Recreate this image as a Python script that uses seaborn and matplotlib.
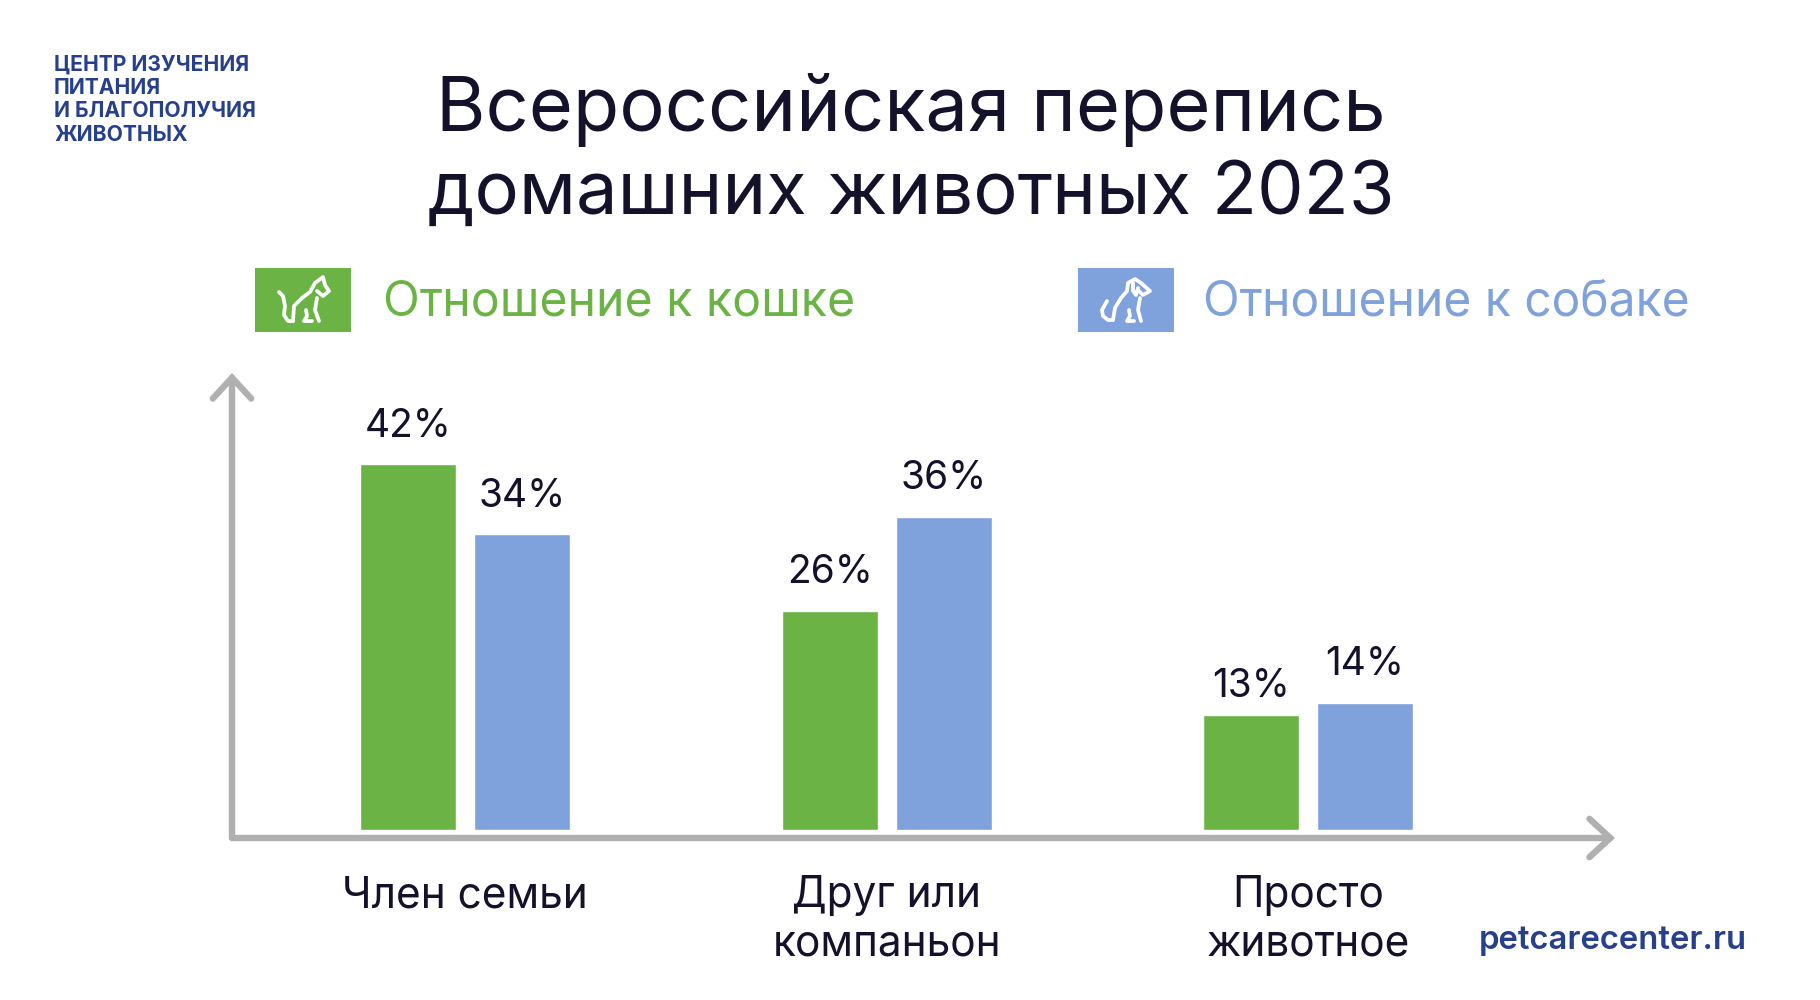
import matplotlib
matplotlib.use("Agg")
import matplotlib.pyplot as plt
import pandas as pd
import seaborn as sns

categories = ["Член семьи", "Друг или\nкомпаньон", "Просто\nживотное"]
# bar heights, the printed labels are kept apart
cat_values = [42.0, 25.2, 13.2]
dog_values = [34.0, 36.0, 14.6]
cat_labels = ["42%", "26%", "13%"]
dog_labels = ["34%", "36%", "14%"]
cat_label = "Отношение к кошке"
dog_label = "Отношение к собаке"

GREEN = "#6BB345"
BLUE = "#7FA1DC"
GREY = "#B0B0B0"
DARK = "#14122B"
NAVY = "#27408B"
W, H = 1820, 1000

sns.set_theme(style="white")
plt.rcParams["font.family"] = ["Inter", "DejaVu Sans"]

df = pd.DataFrame({
    "category": categories * 2,
    "value": cat_values + dog_values,
    "series": [cat_label] * 3 + [dog_label] * 3,
})

fig = plt.figure(figsize=(W / 100, H / 100), dpi=100, facecolor="white")
# axes corners are the ends of the two grey arrows
ax = fig.add_axes([232 / W, 1 - 838 / H, (1615 - 232) / W, (838 - 373) / H])
sns.barplot(data=df, x="category", y="value", hue="series",
            palette=[GREEN, BLUE], width=0.541, gap=0.158,
            saturation=1, legend=False, ax=ax)
ax.set_xlim(-0.553, 2.728)
ax.set_ylim(-0.92, 52.5)
ax.set_xlabel("")
ax.set_ylabel("")
ax.set_yticks([])
ax.tick_params(axis="x", length=0, pad=27, labelsize=30.5, labelcolor=DARK)
ax.patch.set_alpha(0)
sns.despine(ax=ax, left=True, bottom=True)
for lab in ax.get_xticklabels():
    lab.set_linespacing(1.23)

texts = []
for cont, labels in zip(ax.containers, [cat_labels, dog_labels]):
    texts.append(ax.bar_label(cont, labels=labels, padding=14, fontsize=28, color=DARK))
texts[0][2].xyann = (0, 7)  # the 13% label sits closer to its bar

# axis arrows
for end in [(1, 0), (0, 1)]:
    ax.annotate("", xy=end, xytext=(0, 0), xycoords="axes fraction",
                textcoords="axes fraction", annotation_clip=False,
                arrowprops=dict(arrowstyle="->,head_length=1.25,head_width=1.15",
                                color=GREY, lw=4.6, shrinkA=0, shrinkB=0,
                                capstyle="round", joinstyle="miter"))


def px_text(x, y, s, **kw):
    fig.text(x / W, 1 - y / H, s, **kw)


px_text(911, 110, "Всероссийская перепись", ha="center", va="center", fontsize=54.5, color=DARK)
px_text(911, 194, "домашних животных 2023", ha="center", va="center", fontsize=53.3, color=DARK)
for y, line in zip([65, 88, 111, 135],
                   ["ЦЕНТР ИЗУЧЕНИЯ", "ПИТАНИЯ", "И БЛАГОПОЛУЧИЯ", "ЖИВОТНЫХ"]):
    px_text(54, y, line, ha="left", va="center", fontsize=15.2, fontweight="bold", color=NAVY)
px_text(1747, 940, "petcarecenter.ru", ha="right", va="center", fontsize=23.6,
        fontweight="semibold", color=NAVY)
px_text(383, 303, cat_label, ha="left", va="center", fontsize=34.7, color=GREEN)
px_text(1203, 303, dog_label, ha="left", va="center", fontsize=34.5, color=BLUE)

# legend swatches with a rough line icon, drawn in swatch pixels
cat_icon = [
    [(24, 24), (28, 28), (30, 38), (29, 47), (33, 53), (38, 53)],
    [(38, 53), (39, 38), (47, 30), (55, 24), (60, 15), (68, 9), (70, 17), (74, 23), (68, 28), (62, 23)],
    [(62, 30), (60, 42), (64, 53)],
    [(51, 42), (52, 48), (49, 53), (57, 53)],
]
dog_icon = [
    [(29, 33), (24, 42), (25, 48), (30, 52), (35, 52)],
    [(35, 52), (37, 40), (43, 30), (49, 23), (50, 15), (57, 11), (63, 15), (72, 23), (65, 27), (61, 23)],
    [(55, 15), (55, 23), (58, 27), (60, 20)],
    [(62, 30), (60, 42), (63, 53)],
    [(51, 42), (52, 48), (49, 53), (56, 53)],
]
for x0, color, icon in [(255, GREEN, cat_icon), (1078, BLUE, dog_icon)]:
    sw = fig.add_axes([x0 / W, 1 - 332 / H, 96 / W, 64 / H], facecolor=color)
    sw.set_xlim(0, 96)
    sw.set_ylim(64, 0)
    sw.set_xticks([])
    sw.set_yticks([])
    sns.despine(ax=sw, left=True, bottom=True)
    for stroke in icon:
        xs, ys = zip(*stroke)
        sw.plot(xs, ys, color="white", lw=2.7, solid_capstyle="round", solid_joinstyle="round")

fig.savefig("out.png", dpi=100)
